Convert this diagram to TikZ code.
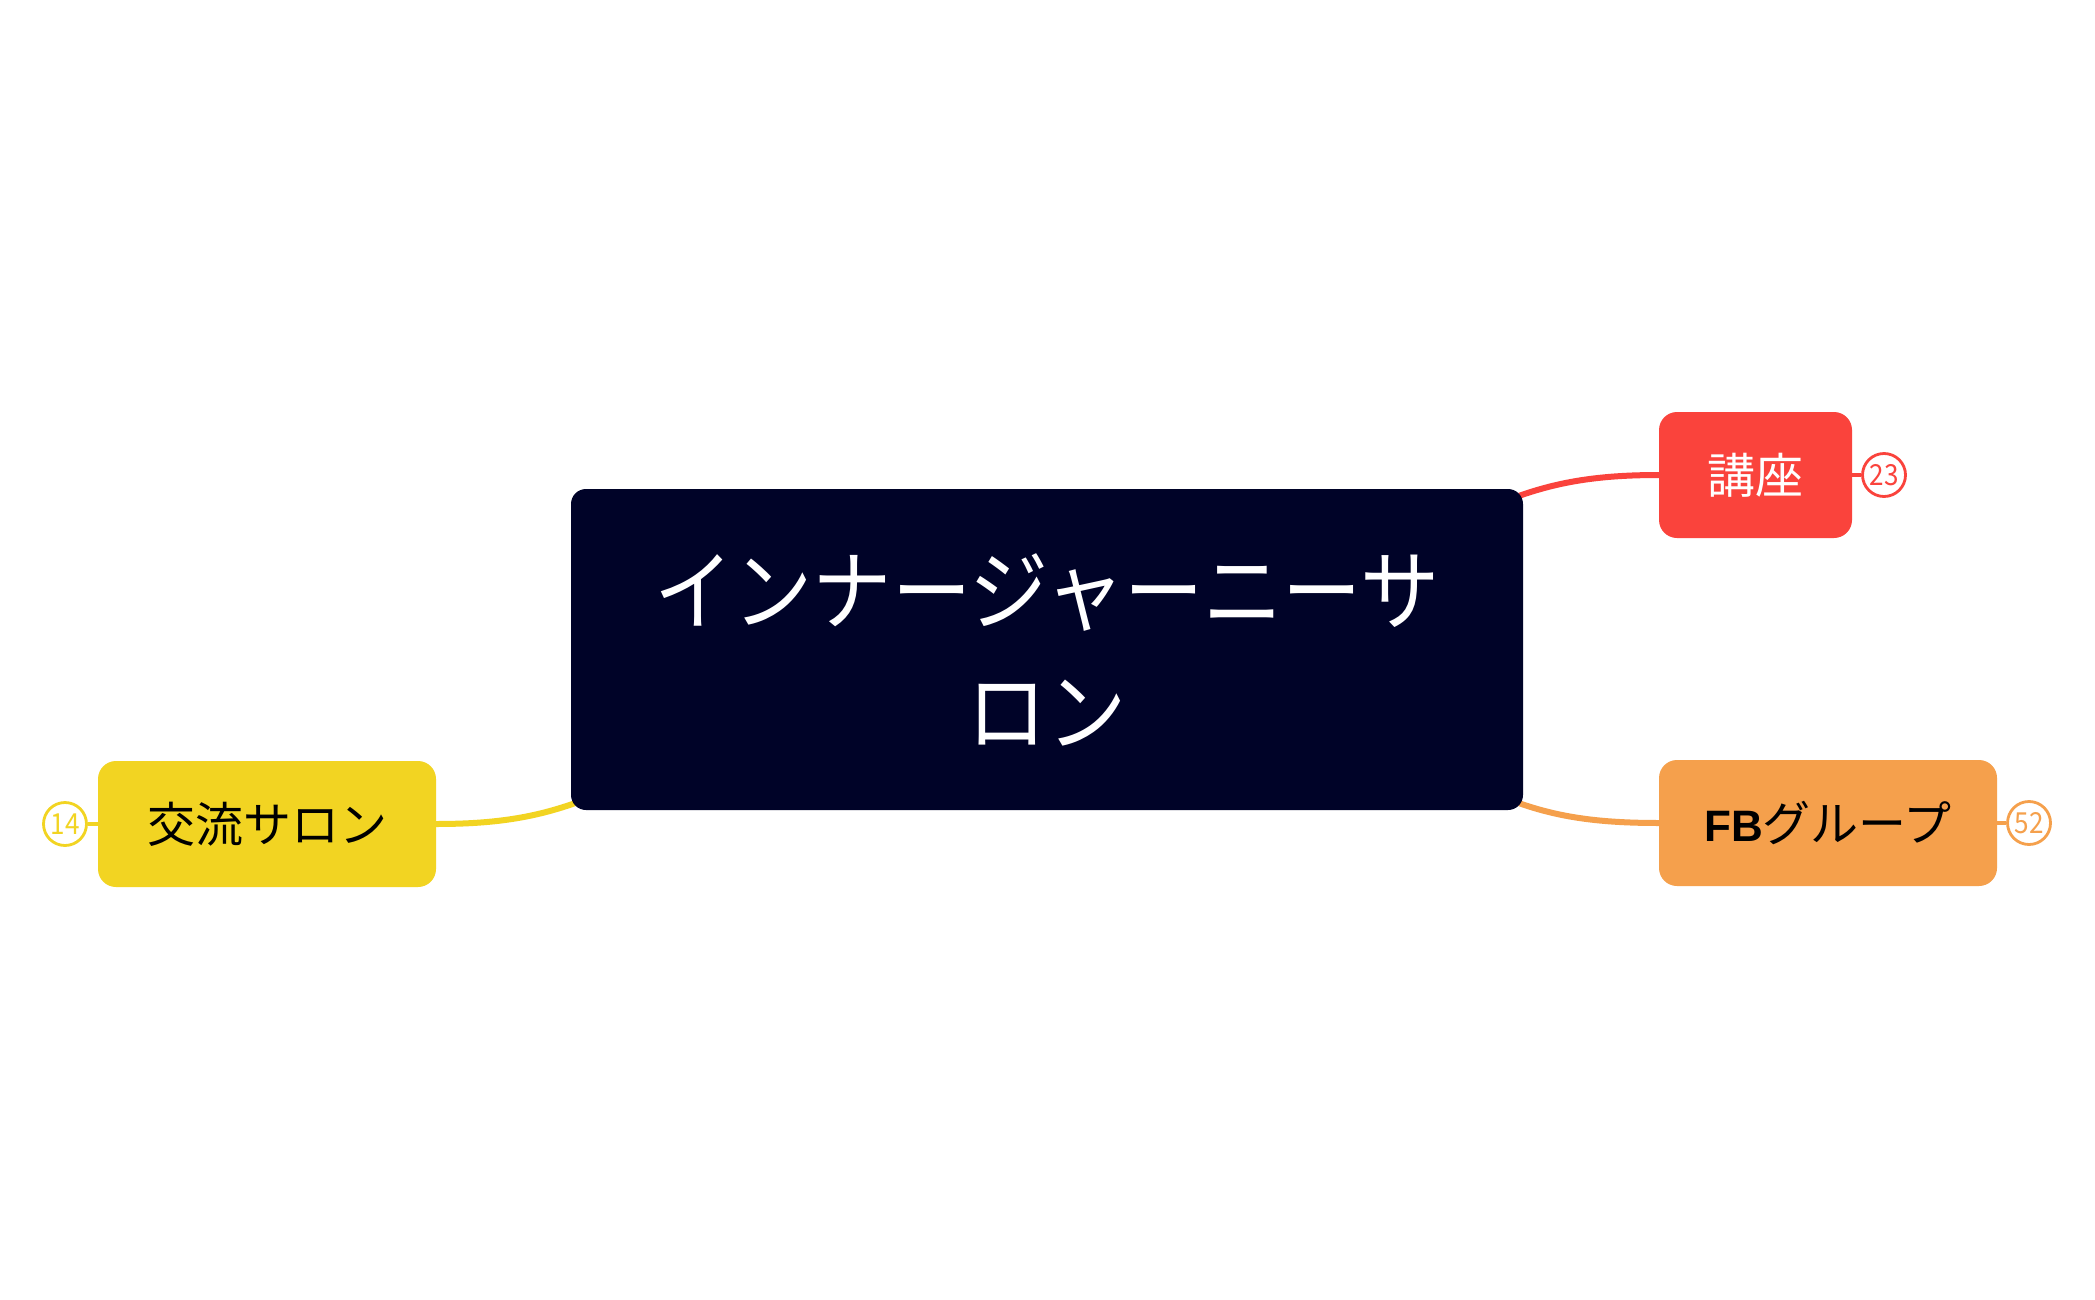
\documentclass[tikz,border=0pt]{standalone}
\usepackage{fontspec}
\setmainfont{Noto Sans CJK JP}
\newfontfamily\rootfont[FakeStretch=0.9]{Noto Sans CJK JP}
\newfontfamily\latinfont{Liberation Sans}
\usetikzlibrary{backgrounds}
\definecolor{navy}{RGB}{0,3,40}
\definecolor{redc}{RGB}{250,67,60}
\definecolor{orangec}{RGB}{245,160,76}
\definecolor{yellowc}{RGB}{242,212,34}
\tikzset{
 topic/.style={rounded corners=18pt, inner sep=0pt, minimum height=126pt, font=\fontsize{48}{56}\selectfont},
 badge/.style={circle, draw=#1, line width=2.8pt, fill=white, text=#1, minimum size=43pt, inner sep=0pt, font=\rootfont\fontsize{29}{30}\selectfont},
 branch/.style={draw=#1, line width=6pt},
 tick/.style={draw=#1, line width=3.5pt}
}
\begin{document}
\begin{tikzpicture}[x=1pt,y=-1pt]
\useasboundingbox (0,0) rectangle (2095,1300);
\node[fill=navy, rounded corners=15pt, minimum width=952pt, minimum height=321pt, text=white, align=center, font=\rootfont\fontsize{88}{121}\selectfont, inner sep=0pt] (root) at (1047,649.5) {インナージャーニーサ\\ロン};
\node[topic, fill=redc, text=white, minimum width=193pt] (kouza) at (1755.5,475) {講座};
\node[topic, fill=orangec, text=black, minimum width=338pt] (fb) at (1828,823) {{\latinfont\bfseries\fontsize{44}{56}\selectfont FB}グループ};
\node[topic, fill=yellowc, text=black, minimum width=338pt] (salon) at (267,824) {交流サロン};
\node[badge=redc] (n23) at (1884,475) {23};
\node[badge=orangec] (n52) at (2029,823) {52};
\node[badge=yellowc] (n14) at (65,824) {14};
\begin{scope}[on background layer]
\fill[white] (0,0) rectangle (2095,1300);
\draw[branch=redc] ([xshift=-4pt,yshift=-7pt]root.north east) .. controls +(40,-14) and +(-60,0) .. (kouza.west);
\draw[branch=orangec] ([xshift=-4pt,yshift=7pt]root.south east) .. controls +(40,14) and +(-60,0) .. (fb.west);
\draw[branch=yellowc] ([xshift=4pt,yshift=7pt]root.south west) .. controls +(-40,14) and +(60,0) .. (salon.east);
\draw[tick=redc] (kouza.east) -- (n23.west);
\draw[tick=orangec] (fb.east) -- (n52.west);
\draw[tick=yellowc] (salon.west) -- (n14.east);
\end{scope}
\end{tikzpicture}
\end{document}
